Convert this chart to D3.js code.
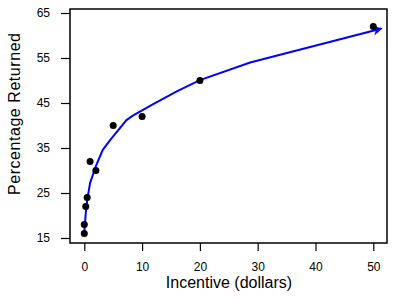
<!DOCTYPE html>
<html>
<head>
<meta charset="utf-8">
<script src="https://cdn.jsdelivr.net/npm/d3@7"></script>
<style>
  body { margin: 0; background: #fff; }
  text { font-family: Arial, "Liberation Sans", sans-serif; }
</style>
</head>
<body>
<div id="chart"></div>
<script>
// observed data
const incentive = [0, 0, 0.25, 0.5, 1, 2, 5, 10, 20, 50];
const returned = [16, 18, 22, 24, 32, 30, 40, 42, 50, 62];

// smooth fit as drawn
const fitX = [0, 0.25, 0.5, 1, 2, 3.2, 4.5, 7.3, 8.4, 12, 16, 20, 28.7, 51.3];
const fitY = [16.3, 20.5, 23.4, 27.2, 31, 34.6, 36.8, 41.2, 42.2, 44.8, 47.6, 50.1, 54, 61.5];

const xTicks = [0, 10, 20, 30, 40, 50];
const yTicks = [15, 25, 35, 45, 55, 65];

const W = 394, H = 300;
const box = { left: 70, right: 387, top: 9, bottom: 243 };

const svg = d3.select('#chart').append('svg')
  .attr('width', W).attr('height', H);

const x = d3.scaleLinear().domain([0, 50]).range([84.3, 373.3]);
const y = d3.scaleLinear().domain([15, 65]).range([238, 13]);

// frame
svg.append('rect')
  .attr('x', box.left).attr('y', box.top)
  .attr('width', box.right - box.left).attr('height', box.bottom - box.top)
  .attr('fill', 'none').attr('stroke', '#000').attr('stroke-width', 1.5);

// axes
const xAxis = svg.append('g')
  .attr('transform', `translate(0,${box.bottom})`)
  .call(d3.axisBottom(x).tickValues(xTicks).tickSize(8).tickPadding(11));
const yAxis = svg.append('g')
  .attr('transform', `translate(${box.left},0)`)
  .call(d3.axisLeft(y).tickValues(yTicks).tickSize(9).tickPadding(11));

[xAxis, yAxis].forEach(a => {
  a.select('.domain').remove();
  a.selectAll('line').attr('stroke', '#000').attr('stroke-width', 1.2);
  a.selectAll('text').attr('fill', '#000').style('font-size', '12px');
});

// axis titles
svg.append('text')
  .attr('x', 229).attr('y', 288)
  .attr('text-anchor', 'middle')
  .style('font-size', '16px')
  .text('Incentive (dollars)');

svg.append('text')
  .attr('transform', 'translate(19.5,114) rotate(-90)')
  .attr('text-anchor', 'middle')
  .attr('textLength', 162)
  .style('font-size', '16px')
  .text('Percentage Returned');

// arrow marker
svg.append('defs').append('marker')
  .attr('id', 'arrow')
  .attr('viewBox', '0 0 10 10')
  .attr('refX', 8).attr('refY', 5)
  .attr('markerWidth', 5).attr('markerHeight', 5)
  .attr('orient', 'auto')
  .append('path')
  .attr('d', 'M0,0 L10,5 L0,10 L3,5 Z')
  .attr('fill', '#0000ff');

// fitted curve
const line = d3.line()
  .x(d => x(d[0]))
  .y(d => y(d[1]));

svg.append('path')
  .datum(fitX.map((v, i) => [v, fitY[i]]))
  .attr('d', line)
  .attr('fill', 'none')
  .attr('stroke', '#0000ff')
  .attr('stroke-width', 2)
  .attr('marker-end', 'url(#arrow)');

// points
svg.selectAll('.pt')
  .data(incentive.map((v, i) => [v, returned[i]]))
  .enter().append('circle')
  .attr('class', 'pt')
  .attr('cx', d => x(d[0]))
  .attr('cy', d => y(d[1]))
  .attr('r', 3.5)
  .attr('fill', '#000');
</script>
</body>
</html>
